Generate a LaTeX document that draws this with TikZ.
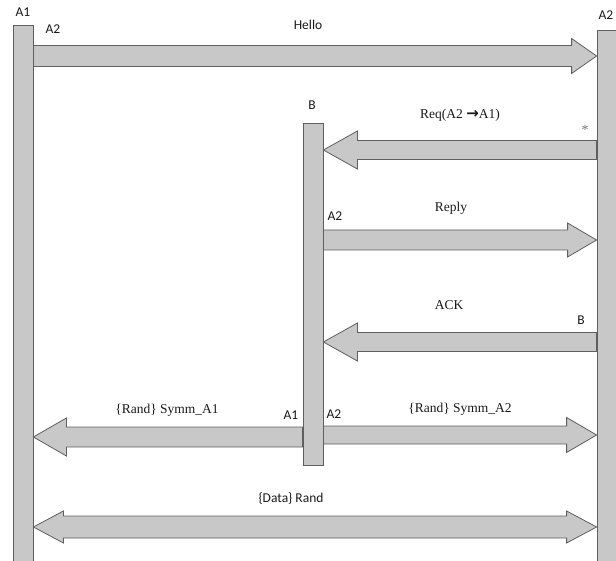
\documentclass[tikz,border=0pt]{standalone}
\usepackage{fontspec}
\setmainfont{Liberation Serif}
\setsansfont{Carlito}
\newfontfamily\arrowfont{DejaVu Sans}
\usetikzlibrary{calc}

\definecolor{barfill}{RGB}{200,200,200}
\definecolor{baredge}{RGB}{95,95,95}
\definecolor{txt}{RGB}{25,25,25}

\tikzset{
  msg shaft/.store in=\msgshaft, msg shaft=10pt,
  msg head/.store in=\msghead, msg head=18pt,
  msg len/.store in=\msglen, msg len=30pt,
  lifeline/.style={draw=baredge, fill=barfill, line width=0.8pt, minimum width=20pt, inner sep=0pt, anchor=north},
  msg/.style={draw=baredge, fill=barfill, line width=0.8pt, line join=miter, to path={
    ($(\tikztostart)!\msgshaft!90:(\tikztotarget)$)
    -- ($(\tikztotarget)!\msglen!(\tikztostart)!\msgshaft!-90:(\tikztostart)$)
    -- ($(\tikztotarget)!\msglen!(\tikztostart)!\msghead!-90:(\tikztostart)$)
    -- (\tikztotarget)
    -- ($(\tikztotarget)!\msglen!(\tikztostart)!\msghead!90:(\tikztostart)$)
    -- ($(\tikztotarget)!\msglen!(\tikztostart)!\msgshaft!90:(\tikztostart)$)
    -- ($(\tikztostart)!\msgshaft!-90:(\tikztotarget)$) -- cycle}},
  msgboth/.style={draw=baredge, fill=barfill, line width=0.8pt, line join=miter, to path={
    (\tikztostart)
    -- ($(\tikztostart)!\msglen!(\tikztotarget)!\msghead!90:(\tikztotarget)$)
    -- ($(\tikztostart)!\msglen!(\tikztotarget)!\msgshaft!90:(\tikztotarget)$)
    -- ($(\tikztotarget)!\msglen!(\tikztostart)!\msgshaft!-90:(\tikztostart)$)
    -- ($(\tikztotarget)!\msglen!(\tikztostart)!\msghead!-90:(\tikztostart)$)
    -- (\tikztotarget)
    -- ($(\tikztotarget)!\msglen!(\tikztostart)!\msghead!90:(\tikztostart)$)
    -- ($(\tikztotarget)!\msglen!(\tikztostart)!\msgshaft!90:(\tikztostart)$)
    -- ($(\tikztostart)!\msglen!(\tikztotarget)!\msgshaft!-90:(\tikztotarget)$)
    -- ($(\tikztostart)!\msglen!(\tikztotarget)!\msghead!-90:(\tikztotarget)$)
    -- cycle}},
  sanslbl/.style={font=\sffamily\fontsize{13.5}{16}\selectfont, text=txt, inner sep=0pt, anchor=base},
  seriflbl/.style={font=\fontsize{13.5}{16}\selectfont, text=txt, inner sep=0pt, anchor=base}
}

\begin{document}
\begin{tikzpicture}[x=1pt,y=-1pt]
\useasboundingbox (0,0) rectangle (616,561);
\clip (0,0) rectangle (616,561);
% lifelines
\node[lifeline, minimum height=560pt] (A1) at (23,25) {};
\node[lifeline, minimum height=560pt] (A2) at (607,30) {};
\node[lifeline, minimum height=342pt] (B) at (313,123) {};
% messages
\draw[msg, msg len=25pt, msg shaft=10.5pt, msg head=17.5pt] (A1.east |- 0,56) to (A2.west |- 0,56);
\draw[msg, msg len=34pt, msg shaft=9.5pt, msg head=19pt] (A2.west |- 0,150) to (B.east |- 0,150);
\draw[msg, msg len=29pt, msg head=17pt] (B.east |- 0,240) to (A2.west |- 0,240);
\draw[msg, msg len=34pt, msg shaft=9.5pt, msg head=19pt] (A2.west |- 0,342) to (B.east |- 0,342);
\draw[msg, msg len=33pt, msg head=19pt] (B.west |- 0,437) to (A1.east |- 0,437);
\draw[msg, msg shaft=9pt, msg head=17.5pt] (B.east |- 0,435) to (A2.west |- 0,435);
\draw[msgboth, msg shaft=11pt, msg head=16pt] (A1.east |- 0,527) to (A2.west |- 0,527);
% labels
\node[sanslbl] (nA1) at (23,17) {A1};
\node[sanslbl] (nA2) at (606,20) {A2};
\node[sanslbl] (nB) at (312,110) {B};
\node[sanslbl] (helloA2) at (53,34) {A2};
\node[sanslbl] (hello) at (308,30) {Hello};
\node[seriflbl] (req) at (460,119) {Req(A2 {\arrowfont\bfseries\fontsize{15}{16}\selectfont →}A1)};
\node[seriflbl, font=\fontsize{14}{16}\selectfont, text=black!55] (star) at (585,135) {*};
\node[sanslbl] (replyA2) at (335,221) {A2};
\node[seriflbl] (reply) at (451,212) {Reply};
\node[seriflbl] (ack) at (449,310) {ACK};
\node[sanslbl] (ackB) at (581,325) {B};
\node[seriflbl] (symm1) at (167,413) {\{Rand\} Symm\_A1};
\node[sanslbl] (symmA1) at (291,419) {A1};
\node[sanslbl] (symmA2) at (334,418) {A2};
\node[seriflbl] (symm2) at (460,412) {\{Rand\} Symm\_A2};
\node[sanslbl] (data) at (291,502) {\{Data\} Rand};
\end{tikzpicture}
\end{document}
